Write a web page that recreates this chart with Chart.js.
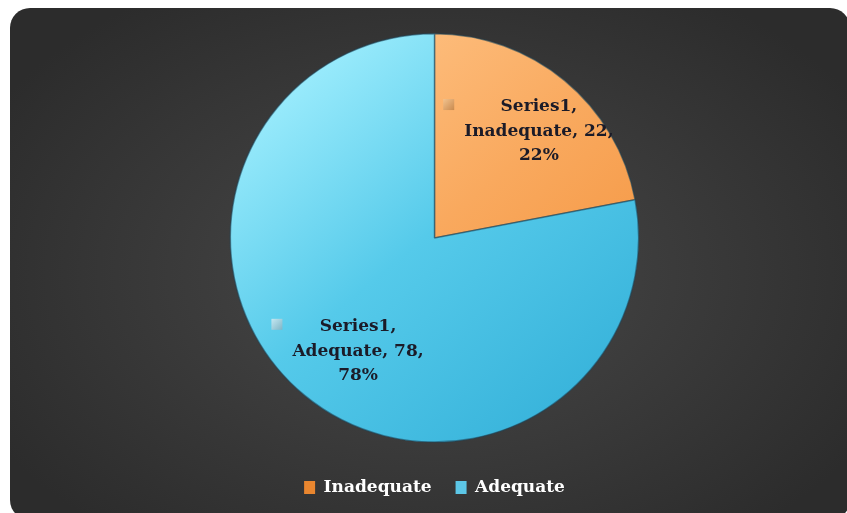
<!DOCTYPE html>
<html>
<head>
<meta charset="utf-8">
<script src="https://cdn.jsdelivr.net/npm/chart.js@4"></script>
<style>
  html,body{margin:0;padding:0;background:#fff;width:847px;height:513px;overflow:hidden;}
  #card{position:absolute;left:10px;top:8px;width:840px;height:512px;border-radius:20px;
    background:radial-gradient(ellipse 60% 65% at 50% 52%, #4a4a4a 0%, #3c3c3c 45%, #2c2c2c 100%);}
  #wrap{position:absolute;left:0;top:0;width:847px;height:513px;}
</style>
</head>
<body>
<div id="card"></div>
<div id="wrap"><canvas id="c" width="847" height="513"></canvas></div>
<script>
const categories = ["Inadequate", "Adequate"];
const seriesName = "Series1";
const values = [22, 78];
const percentLabels = ["22%", "78%"];

const baseColors = ["#F9A95E", "#55CAEA"];
const lightStops = ["#FFC68A", "#A6F1FF"];
const darkStops = ["#F3913A", "#36B2DA"];
const swatch = ["#E9862F", "#5CC6E6"];
const labelAngleShift = [0.085, -0.098];
const labelRadius = [0.73, 0.67];
const FONT = "'DejaVu Serif', serif";

function sliceFill(ctx) {
  const chart = ctx.chart;
  const area = chart.chartArea;
  if (!area || !isFinite(area.left) || !isFinite(area.top)) return baseColors[ctx.dataIndex];
  const c = chart.ctx;
  const cx = (area.left + area.right) / 2;
  const cy = (area.top + area.bottom) / 2;
  const r = Math.min(area.right - area.left, area.bottom - area.top) / 2;
  if (!isFinite(cx) || !isFinite(cy) || !isFinite(r) || r <= 0) return baseColors[ctx.dataIndex];
  const g = c.createLinearGradient(cx - r * 0.8, cy - r * 0.9, cx + r * 0.7, cy + r * 0.9);
  g.addColorStop(0, lightStops[ctx.dataIndex]);
  g.addColorStop(0.5, baseColors[ctx.dataIndex]);
  g.addColorStop(1, darkStops[ctx.dataIndex]);
  return g;
}

const labelPlugin = {
  id: "sliceLabels",
  afterDatasetsDraw(chart) {
    const ctx = chart.ctx;
    const meta = chart.getDatasetMeta(0);
    const lineH = 24.5;
    ctx.save();
    ctx.font = "bold 17px " + FONT;
    ctx.textAlign = "center";
    ctx.textBaseline = "middle";
    meta.data.forEach((arc, i) => {
      const mid = (arc.startAngle + arc.endAngle) / 2 + labelAngleShift[i];
      const rr = arc.outerRadius * labelRadius[i];
      const x = arc.x + Math.cos(mid) * rr;
      const y = arc.y + Math.sin(mid) * rr;
      const lines = [seriesName + ",", categories[i] + ", " + values[i] + ",", percentLabels[i]];
      let maxW = 0;
      lines.forEach(l => { maxW = Math.max(maxW, ctx.measureText(l).width); });
      ctx.fillStyle = "#1b1b28";
      lines.forEach((l, k) => {
        ctx.fillText(l, x, y + (k - 1) * lineH);
      });
      const mx = x - maxW / 2 - 21;
      const my = y - lineH - 8;
      const g = ctx.createLinearGradient(mx, my, mx + 11, my + 11);
      g.addColorStop(0, i === 0 ? "#F2C28E" : "#C4E8F2");
      g.addColorStop(1, i === 0 ? "#C98A4E" : "#7FB5C6");
      ctx.fillStyle = g;
      ctx.fillRect(mx, my, 11, 11);
    });
    ctx.restore();
  }
};

new Chart(document.getElementById("c"), {
  type: "pie",
  data: {
    labels: categories,
    datasets: [{
      label: seriesName,
      data: values,
      backgroundColor: sliceFill,
      borderColor: "rgba(30,70,90,0.55)",
      borderWidth: 1.5
    }]
  },
  options: {
    responsive: false,
    animation: false,
    devicePixelRatio: 1,
    layout: { padding: { left: 22, right: 0, top: 33, bottom: 7 } },
    plugins: {
      tooltip: { enabled: false },
      legend: {
        position: "bottom",
        title: { display: true, text: "", font: { size: 1 }, padding: { top: 11, bottom: 0 } },
        labels: {
          color: "#ffffff",
          font: { family: FONT, size: 17, weight: "bold" },
          boxWidth: 11,
          boxHeight: 13,
          padding: 24,
          generateLabels(chart) {
            return categories.map((c, i) => ({
              text: c,
              fillStyle: swatch[i],
              strokeStyle: swatch[i],
              lineWidth: 0,
              fontColor: "#ffffff",
              index: i,
              hidden: false
            }));
          }
        }
      }
    }
  },
  plugins: [labelPlugin]
});
</script>
</body>
</html>
